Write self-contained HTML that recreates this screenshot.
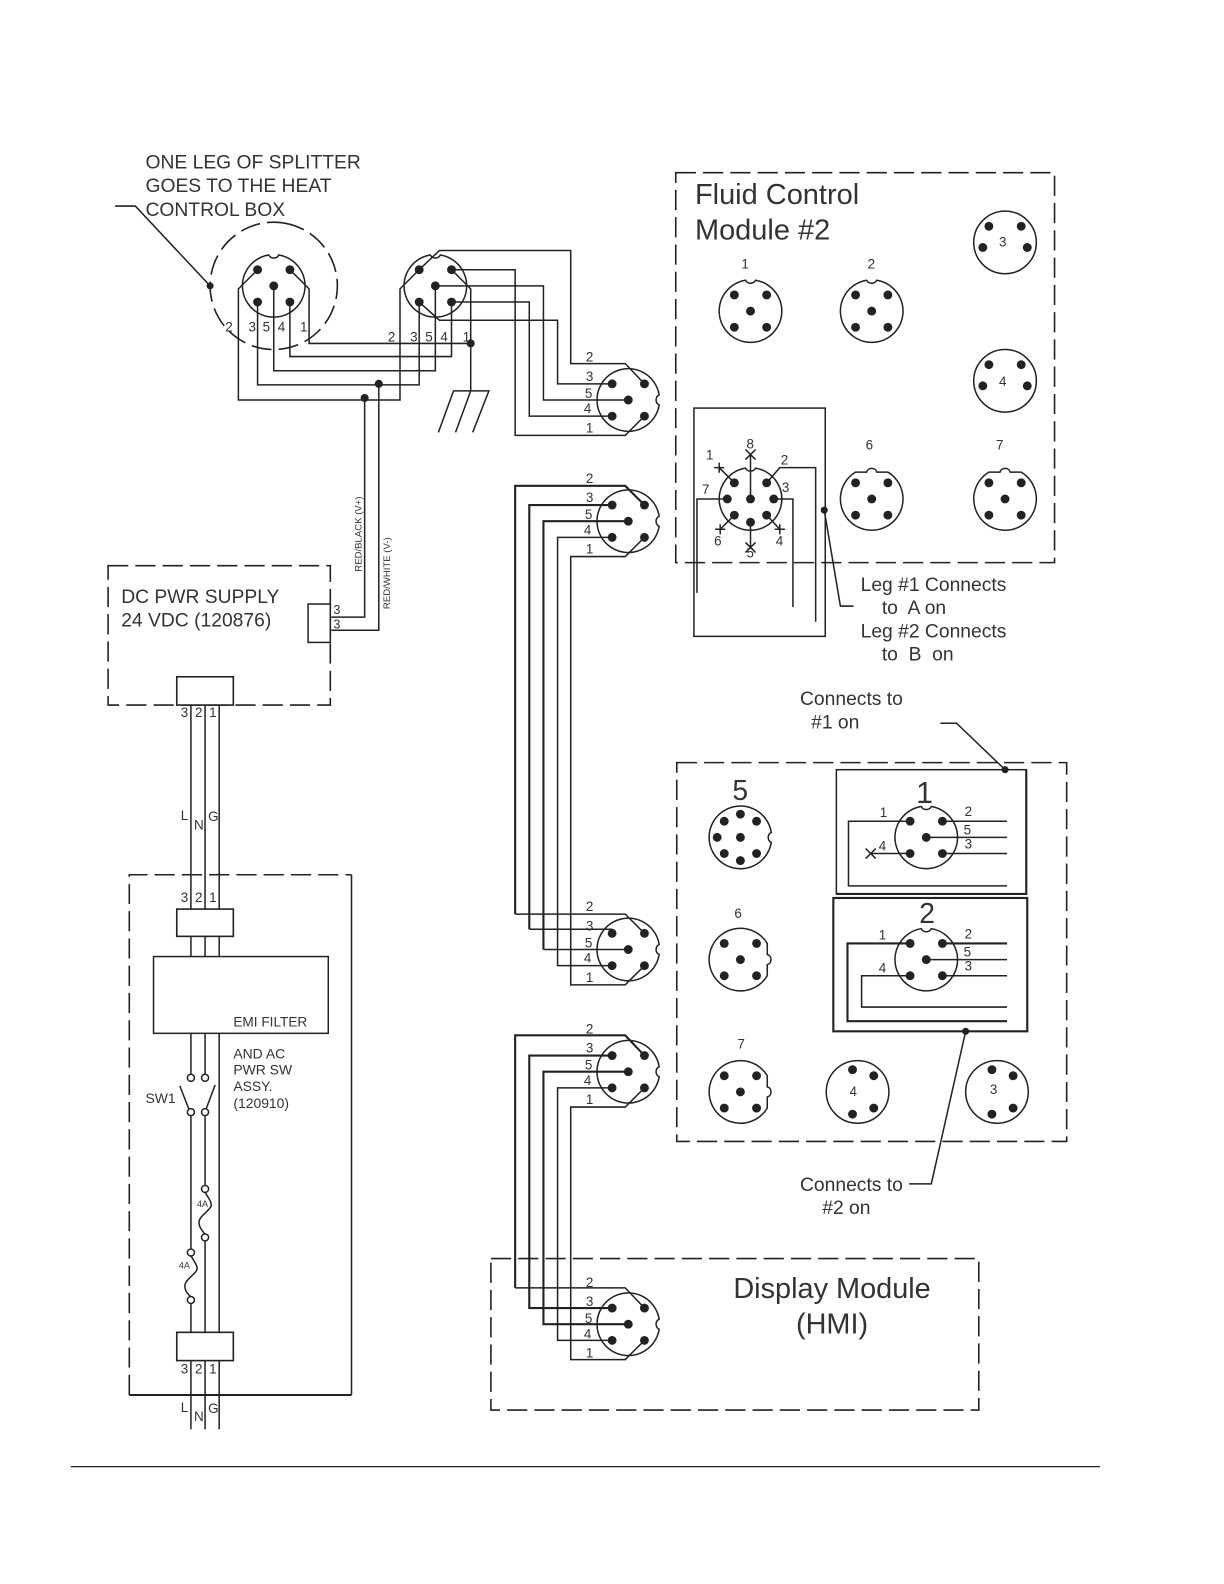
<!DOCTYPE html>
<html><head><meta charset="utf-8"><style>
html,body{margin:0;padding:0;background:#fff}
svg{display:block}
text{font-family:"Liberation Sans",sans-serif;fill:#333;white-space:pre}
.w{fill:none;stroke:#222;stroke-width:1.5}
.t{fill:none;stroke:#222;stroke-width:2.1}
.d{fill:none;stroke:#222;stroke-width:1.6;stroke-dasharray:20 7}
.s13{font-size:13.3px}.s18{font-size:19.1px}.s14{font-size:13.8px}
</style></head><body>
<svg width="1224" height="1584" viewBox="0 0 1224 1584" xmlns="http://www.w3.org/2000/svg">
<defs>
<path id="nb" class="w" d="M5,-30.6A31,31 0 1 1 -5,-30.6C-3,-26.5 3,-26.5 5,-30.6Z"/>
<path id="kb" class="w" d="M16,-26.6A31,31 0 1 1 -16,-26.6L-5,-26.6C-4,-31.5 4,-31.5 5,-26.6Z"/>
<g id="p5" fill="#222"><circle cx="-16" cy="-16" r="4.4"/><circle cx="16" cy="-16" r="4.4"/><circle cx="-16" cy="16" r="4.4"/><circle cx="16" cy="16" r="4.4"/><circle r="4.4"/></g>
<g id="top"><use href="#nb"/><use href="#p5"/></g>
<g id="right"><use href="#nb" transform="rotate(90)"/><use href="#p5"/></g>
<g id="ktop"><use href="#kb"/><use href="#p5"/></g>
<g id="kright"><use href="#kb" transform="rotate(90)"/><use href="#p5"/></g>
<g id="r3"><circle r="31" class="w"/><g fill="#222"><circle cx="-16" cy="-16" r="4.4"/><circle cx="16" cy="-16" r="4.4"/><circle cx="-22" cy="5" r="4.4"/><circle cx="22" cy="5" r="4.4"/></g></g>
<g id="r4"><circle r="31" class="w"/><g fill="#222"><circle cx="-5" cy="-22" r="4.4"/><circle cx="16" cy="-16" r="4.4"/><circle cx="16" cy="16" r="4.4"/><circle cx="-5" cy="22" r="4.4"/></g></g>
</defs>
<g transform="scale(1.0101)">

<text class="s18" x="144" y="167">ONE LEG OF SPLITTER</text>
<text class="s18" x="144" y="190">GOES TO THE HEAT</text>
<text class="s18" x="144" y="214">CONTROL BOX</text>
<path class="w" d="M114,204H134L208,283"/><circle cx="208" cy="283" r="3.5" fill="#222"/>
<circle class="d" cx="271" cy="283" r="63" transform="rotate(-80 271 283)"/>

<!-- upper connectors -->
<use href="#top" x="271" y="283"/>
<use href="#top" x="431" y="283"/>
<path class="w" d="M255,267L236,286V396H396V286L415,267"/>
<path class="w" d="M255,299V381H415V299"/>
<path class="w" d="M271,283V367H431V283"/>
<path class="w" d="M287,299V353H447V299"/>
<path class="w" d="M287,267L306,286V340H466"/>
<path class="w" d="M447,267L466,286V387"/>
<path class="w" d="M434,428L449,387H484L468,428M466,387L451,428"/>
<circle cx="466" cy="340" r="4" fill="#222"/>
<circle cx="375" cy="380" r="4" fill="#222"/>
<circle cx="361" cy="394" r="4" fill="#222"/>
<g class="s13">
<text x="223" y="328">2</text><text x="246" y="328">3</text><text x="260" y="328">5</text><text x="275" y="328">4</text><text x="297" y="328">1</text>
<text x="384" y="338">2</text><text x="406" y="338">3</text><text x="421" y="338">5</text><text x="436" y="338">4</text><text x="458" y="338">1</text>
</g>

<!-- wires to conn 3 -->
<path class="w" d="M415,267L435,248H565V360H619L638,380"/>
<path class="w" d="M447,267H510V431H619L638,412"/>
<path class="w" d="M431,283H538V396H622"/>
<path class="w" d="M447,299H524V412H606"/>
<path class="w" d="M415,299L435,317H552V380H606"/>
<use href="#right" x="622" y="396"/>

<!-- conn 4, 5 bundle -->
<path class="t" d="M638,500L619,481H510V905"/><path class="w" d="M510,905H619L638,924"/>
<path class="t" d="M606,500H524V920"/><path class="w" d="M524,920H606"/>
<path class="t" d="M622,516H538V940"/><path class="w" d="M538,940H622"/>
<path class="w" d="M606,532H552V956H606"/>
<path class="w" d="M638,532L619,551H565V975H619L638,956"/>
<use href="#right" x="622" y="516"/>
<use href="#right" x="622" y="940"/>

<!-- conn 6, 7 bundle -->
<path class="t" d="M638,1045L619,1025H510V1275"/><path class="w" d="M510,1275H619L638,1295"/>
<path class="t" d="M606,1045H524V1295H606"/>
<path class="t" d="M622,1061H538V1311H622"/>
<path class="w" d="M606,1077H552V1327H606"/>
<path class="w" d="M638,1077L619,1096H565V1346H619L638,1327"/>
<use href="#right" x="622" y="1061"/>
<use href="#right" x="622" y="1311"/>

<g class="s13">
<text x="580" y="358">2</text><text x="580" y="377">3</text><text x="579" y="394">5</text><text x="578" y="409">4</text><text x="580" y="428">1</text>
<text x="580" y="478">2</text><text x="580" y="497">3</text><text x="579" y="514">5</text><text x="578" y="529">4</text><text x="580" y="548">1</text>
<text x="580" y="902">2</text><text x="580" y="921">3</text><text x="579" y="938">5</text><text x="578" y="953">4</text><text x="580" y="972">1</text>
<text x="580" y="1023">2</text><text x="580" y="1042">3</text><text x="579" y="1059">5</text><text x="578" y="1074">4</text><text x="580" y="1093">1</text>
<text x="580" y="1274">2</text><text x="580" y="1293">3</text><text x="579" y="1310">5</text><text x="578" y="1325">4</text><text x="580" y="1344">1</text>
</g>

<!-- Fluid control -->
<rect class="d" x="669" y="171" width="375" height="386"/>
<text x="688" y="202" font-size="28.7">Fluid Control</text>
<text x="688" y="237" font-size="28.7">Module #2</text>
<use href="#top" x="743" y="308"/><use href="#top" x="863" y="308"/>
<use href="#r3" x="995" y="240"/><use href="#r3" x="995" y="377"/>
<use href="#ktop" x="863" y="494"/><use href="#ktop" x="995" y="494"/>
<g class="s13">
<text x="734" y="266">1</text><text x="859" y="266">2</text>
<text x="989" y="244">3</text><text x="989" y="382">4</text>
<text x="857" y="445">6</text><text x="986" y="445">7</text>
</g>
<rect class="w" x="687" y="404" width="130" height="226"/>
<path class="w" d="M748,463.4A31,31 0 1 1 738,463.4C740,467.5 746,467.5 748,463.4Z"/>
<g fill="#222"><circle cx="727" cy="478" r="4.4"/><circle cx="759" cy="478" r="4.4"/><circle cx="727" cy="510" r="4.4"/><circle cx="759" cy="510" r="4.4"/><circle cx="720" cy="494" r="4.4"/><circle cx="766" cy="494" r="4.4"/><circle cx="743" cy="494" r="4.4"/><circle cx="743" cy="517" r="4.4"/></g>
<path class="w" d="M743,494V450M738,445L748,455M748,445L738,455"/>
<path class="w" d="M727,478L712,463M712,458V468M707,463H717"/>
<path class="w" d="M727,510L713,524M708,524H718M713,519V529"/>
<path class="w" d="M759,510L772,524M767,524H777M772,519V529"/>
<path class="w" d="M743,517V542M738,537L748,547M748,537L738,547"/>
<path class="w" d="M759,478L772,463H807.5V615.5"/>
<path class="w" d="M766,494H785V601"/>
<path class="w" d="M720,494H690V587"/>
<g class="s13">
<text x="739" y="444">8</text><text x="699" y="455">1</text><text x="773" y="460">2</text><text x="695" y="489">7</text><text x="774" y="487">3</text><text x="707" y="540">6</text><text x="739" y="552">5</text><text x="768" y="540">4</text>
</g>
<circle cx="816" cy="505" r="3.5" fill="#222"/>
<path class="w" d="M816,505L832,600H845"/>
<text class="s18" x="852" y="585">Leg #1 Connects</text>
<text class="s18" x="873" y="608">to  A on</text>
<text class="s18" x="852" y="631">Leg #2 Connects</text>
<text class="s18" x="873" y="654">to  B  on</text>

<!-- Right lower box -->
<text class="s18" x="792" y="698">Connects to</text>
<text class="s18" x="803" y="721">#1 on</text>
<path class="w" d="M931,716H947L995,762"/>
<rect class="d" x="670" y="755" width="386" height="375"/>
<text x="725" y="792" font-size="28">5</text>
<use href="#nb" transform="translate(733,829) rotate(90)"/>
<g fill="#222" transform="translate(733,829)"><circle r="4.4"/><circle cy="-23" r="4.4"/><circle cx="-16" cy="-16" r="4.4"/><circle cx="16" cy="-16" r="4.4"/><circle cx="-23" r="4.4"/><circle cx="-16" cy="16" r="4.4"/><circle cx="16" cy="16" r="4.4"/><circle cy="23" r="4.4"/></g>
<use href="#kright" x="733" y="950"/>
<use href="#kright" x="733" y="1081"/>
<use href="#r4" x="849" y="1081"/>
<use href="#r4" x="987" y="1081"/>
<g class="s13">
<text x="727" y="909">6</text><text x="730" y="1038">7</text>
<text x="841" y="1085">4</text><text x="980" y="1083">3</text>
</g>

<rect class="w" x="828" y="762" width="188" height="123"/>
<path class="t" d="M1016,762V885H828"/>
<text x="907" y="795" font-size="30">1</text>
<use href="#top" x="917" y="829"/>
<path class="w" d="M901,813H840V877H997M933,813H997M917,829H997M933,845H997M901,845H862M857,840L867,850M867,840L857,850"/>
<g class="s13">
<text x="871" y="809">1</text><text x="870" y="842">4</text><text x="955" y="808">2</text><text x="954" y="826">5</text><text x="955" y="840">3</text>
</g>

<rect class="t" x="825" y="889" width="192" height="132"/>
<text x="910" y="914" font-size="28">2</text>
<use href="#top" x="917" y="950"/>
<path class="t" d="M901,934H839V1011H997M933,934H997"/>
<path class="w" d="M917,950H997M933,966H997M901,966H853V997H997"/>
<g class="s13">
<text x="870" y="930">1</text><text x="870" y="963">4</text><text x="955" y="929">2</text><text x="954" y="947">5</text><text x="955" y="961">3</text>
</g>
<circle cx="995" cy="762" r="3.5" fill="#222"/>
<circle cx="956" cy="1021" r="3.5" fill="#222"/>
<path class="w" d="M900,1172H922L956,1021"/>
<text class="s18" x="792" y="1179">Connects to</text>
<text class="s18" x="814" y="1202">#2 on</text>

<!-- Display -->
<rect class="d" x="486" y="1246" width="483" height="150"/>
<text x="726" y="1285" font-size="28.6">Display Module</text>
<text x="788" y="1320" font-size="28.6">(HMI)</text>

<!-- DC supply -->
<rect class="d" x="107" y="560" width="220" height="138"/>
<text class="s18" x="120" y="597">DC PWR SUPPLY</text>
<text class="s18" x="120" y="620">24 VDC (120876)</text>
<rect x="305" y="598" width="22" height="38" fill="#fff" stroke="#222" stroke-width="1.5"/>
<path class="w" d="M361,394V611H328M375,380V624H328"/>
<text font-size="12.5" x="330" y="608">3</text><text font-size="12.5" x="330" y="622">3</text>
<text font-size="9.5" transform="translate(358,566) rotate(-90)">RED/BLACK (V+)</text>
<text font-size="9.5" transform="translate(386,603) rotate(-90)">RED/WHITE (V-)</text>
<rect x="175" y="670" width="56" height="28" fill="#fff" stroke="#222" stroke-width="1.6"/>
<path class="w" d="M189,698V900M203,698V900M217,698V900"/>
<g class="s13"><text x="179" y="710">3</text><text x="193" y="710">2</text><text x="207" y="710">1</text>
<text x="179" y="812">L</text><text x="192" y="821">N</text><text x="206" y="813">G</text></g>

<!-- AC box -->
<path class="d" d="M128,1381V866H348"/>
<path class="w" d="M348,866V1381"/>
<path d="M128,1381H348" class="w" style="stroke-width:2"/>
<g class="s13"><text x="179" y="893">3</text><text x="193" y="893">2</text><text x="207" y="893">1</text></g>
<rect x="175" y="900" width="56" height="27" fill="#fff" stroke="#222" stroke-width="1.6"/>
<path class="w" d="M189,927V947M203,927V947M217,927V947"/>
<rect class="w" x="152" y="947" width="173" height="76"/>
<text font-size="13.5" x="231" y="1016">EMI FILTER</text>
<text class="s14" x="231" y="1048">AND AC</text>
<text class="s14" x="231" y="1064">PWR SW</text>
<text class="s14" x="231" y="1080">ASSY.</text>
<text class="s14" x="231" y="1097">(120910)</text>
<text class="s14" x="144" y="1092">SW1</text>
<path class="w" d="M189,1023V1063M203,1023V1063M217,1023V1319"/>
<g class="w"><circle cx="189" cy="1067" r="3.5"/><circle cx="203" cy="1067" r="3.5"/><circle cx="189" cy="1101" r="3.5"/><circle cx="203" cy="1101" r="3.5"/>
<circle cx="203" cy="1177" r="3.5"/><circle cx="203" cy="1225" r="3.5"/><circle cx="189" cy="1240" r="3.5"/><circle cx="189" cy="1287" r="3.5"/></g>
<path class="w" d="M178,1075L187,1098M213,1074L204,1098"/>
<path class="w" d="M189,1105V1236M189,1291V1319M203,1105V1173M203,1229V1319"/>
<path class="w" d="M203,1180C206,1186 210,1190 209,1194C208,1198 197,1204 197,1210C197,1215 200,1218 203,1222"/>
<path class="w" d="M189,1243C192,1249 196,1253 195,1257C194,1261 183,1267 183,1273C183,1278 186,1281 189,1284"/>
<text font-size="9" x="195" y="1195">4A</text>
<text font-size="9" x="177" y="1256">4A</text>
<rect x="175" y="1319" width="56" height="28" fill="#fff" stroke="#222" stroke-width="1.6"/>
<path class="w" d="M189,1347V1415M203,1347V1415M217,1347V1415"/>
<g class="s13"><text x="179" y="1360">3</text><text x="193" y="1360">2</text><text x="207" y="1360">1</text>
<text x="179" y="1398">L</text><text x="192" y="1407">N</text><text x="206" y="1399">G</text></g>

<path d="M70,1452H1089" stroke="#222" stroke-width="1.2"/>
</g>
</svg>
</body></html>
